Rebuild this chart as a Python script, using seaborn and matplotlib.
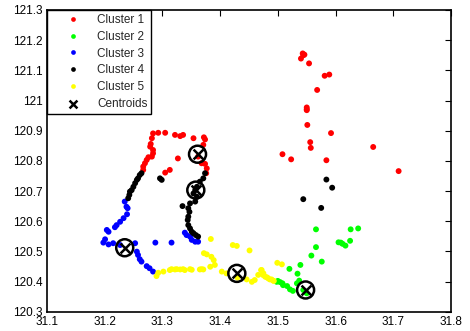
import numpy as np
import pandas as pd
import matplotlib
matplotlib.use("Agg")
import matplotlib.pyplot as plt
import seaborn as sns
from matplotlib.ticker import FormatStrFormatter

# cluster points (longitude-ish x, latitude-ish y)
c1_x = [31.543, 31.546, 31.540, 31.544, 31.554, 31.581, 31.589, 31.568, 31.550, 31.550,
        31.550, 31.551, 31.592, 31.556, 31.557, 31.665, 31.508, 31.523, 31.584, 31.709,
        31.284, 31.293, 31.305, 31.322, 31.331, 31.336, 31.354, 31.372, 31.374, 31.371,
        31.282, 31.280, 31.279, 31.284, 31.284, 31.282, 31.276, 31.273, 31.270, 31.267,
        31.267, 31.327, 31.313, 31.305, 31.368, 31.374, 31.377, 31.376, 31.362]
c1_y = [121.156, 121.152, 121.139, 121.150, 121.123, 121.082, 121.086, 121.035, 120.977, 120.971,
        120.968, 120.919, 120.892, 120.862, 120.843, 120.846, 120.822, 120.805, 120.802, 120.766,
        120.891, 120.893, 120.893, 120.886, 120.882, 120.886, 120.875, 120.878, 120.871, 120.853,
        120.875, 120.856, 120.847, 120.836, 120.825, 120.814, 120.812, 120.803, 120.792, 120.781,
        120.770, 120.808, 120.770, 120.761, 120.792, 120.790, 120.775, 120.759, 120.814]

c2_x = [31.566, 31.626, 31.639, 31.605, 31.609, 31.612, 31.617, 31.625, 31.566, 31.558,
        31.576, 31.539, 31.520, 31.534, 31.537, 31.500, 31.504, 31.508, 31.509, 31.516,
        31.521, 31.526, 31.533, 31.544, 31.550, 31.498]
c2_y = [120.573, 120.573, 120.576, 120.530, 120.529, 120.525, 120.519, 120.535, 120.514, 120.486,
        120.466, 120.455, 120.442, 120.426, 120.403, 120.402, 120.398, 120.394, 120.388, 120.385,
        120.374, 120.369, 120.394, 120.372, 120.361, 120.399]

c3_x = [31.235, 31.238, 31.240, 31.239, 31.233, 31.227, 31.221, 31.218, 31.207, 31.204,
        31.201, 31.198, 31.207, 31.215, 31.227, 31.253, 31.256, 31.258, 31.261, 31.264,
        31.273, 31.278, 31.284, 31.288, 31.316, 31.339, 31.342, 31.348, 31.351, 31.357,
        31.362]
c3_y = [120.665, 120.648, 120.643, 120.623, 120.610, 120.598, 120.587, 120.580, 120.565, 120.571,
        120.540, 120.529, 120.523, 120.527, 120.521, 120.527, 120.499, 120.488, 120.474, 120.466,
        120.451, 120.444, 120.433, 120.529, 120.529, 120.562, 120.554, 120.549, 120.538, 120.532,
        120.532]

c4_x = [31.264, 31.261, 31.258, 31.256, 31.253, 31.250, 31.247, 31.244, 31.243, 31.241,
        31.296, 31.299, 31.374, 31.371, 31.365, 31.360, 31.357, 31.354, 31.360, 31.357,
        31.335, 31.345, 31.347, 31.345, 31.344, 31.345, 31.348, 31.351, 31.354, 31.358,
        31.362, 31.348, 31.584, 31.594, 31.544, 31.575]
c4_y = [120.759, 120.753, 120.742, 120.737, 120.726, 120.714, 120.703, 120.698, 120.687, 120.676,
        120.742, 120.737, 120.759, 120.742, 120.731, 120.714, 120.703, 120.692, 120.681, 120.665,
        120.650, 120.643, 120.631, 120.615, 120.604, 120.587, 120.576, 120.565, 120.560, 120.554,
        120.549, 120.659, 120.738, 120.711, 120.673, 120.644]

c5_x = [31.384, 31.422, 31.429, 31.451, 31.372, 31.377, 31.385, 31.389, 31.391, 31.383,
        31.371, 31.365, 31.403, 31.411, 31.446, 31.455, 31.460, 31.466, 31.471, 31.475,
        31.481, 31.486, 31.492, 31.499, 31.507, 31.351, 31.339, 31.331, 31.322, 31.313,
        31.302, 31.293, 31.290, 31.316, 31.325, 31.336, 31.348, 31.368, 31.472, 31.474,
        31.478, 31.483, 31.489, 31.493, 31.430]
c5_y = [120.541, 120.521, 120.518, 120.503, 120.494, 120.490, 120.482, 120.471, 120.455, 120.449,
        120.440, 120.440, 120.433, 120.427, 120.407, 120.399, 120.405, 120.422, 120.438, 120.427,
        120.414, 120.407, 120.403, 120.462, 120.457, 120.439, 120.438, 120.440, 120.440, 120.438,
        120.433, 120.429, 120.418, 120.441, 120.441, 120.441, 120.441, 120.441, 120.438, 120.422,
        120.416, 120.411, 120.407, 120.402, 120.413]

cent_x = [31.361, 31.548, 31.235, 31.358, 31.429]
cent_y = [120.822, 120.372, 120.512, 120.703, 120.427]

cluster_names = ["Cluster 1", "Cluster 2", "Cluster 3", "Cluster 4", "Cluster 5"]
cluster_colors = ["#ff0000", "#00ff00", "#0000ff", "#000000", "#ffff00"]

frames = []
for name, xs, ys in zip(cluster_names, [c1_x, c2_x, c3_x, c4_x, c5_x],
                        [c1_y, c2_y, c3_y, c4_y, c5_y]):
    frames.append(pd.DataFrame({"x": xs, "y": ys, "cluster": name}))
df = pd.concat(frames, ignore_index=True)
cent = pd.DataFrame({"x": cent_x, "y": cent_y})

sns.set_style("white")
plt.rcParams["font.family"] = ["Liberation Sans", "DejaVu Sans"]

fig = plt.figure(figsize=(4.7, 3.31), dpi=100)
ax = fig.add_axes([0.0994, 0.0583, 0.8606, 0.9115])

sns.scatterplot(data=df, x="x", y="y", hue="cluster", hue_order=cluster_names,
                palette=cluster_colors, s=18, linewidth=0, ax=ax)
# centroid: ring plus cross
sns.scatterplot(data=cent, x="x", y="y", marker="o", s=150, facecolor="none",
                edgecolor="black", linewidth=1.8, ax=ax, legend=False)
sns.scatterplot(data=cent, x="x", y="y", marker="x", s=50, color="black",
                linewidth=1.8, ax=ax, label="Centroids")

ax.set_xlim(31.1, 31.8)
ax.set_ylim(120.3, 121.3)
ax.set_xticks(np.arange(31.1, 31.81, 0.1))
ax.set_yticks(np.arange(120.3, 121.31, 0.1))
ax.xaxis.set_major_formatter(FormatStrFormatter("%g"))
ax.yaxis.set_major_formatter(FormatStrFormatter("%g"))
ax.set_xlabel("")
ax.set_ylabel("")
ax.tick_params(direction="in", length=4, width=0.8, labelsize=8.5, colors="black",
               top=True, right=True, pad=3)
for sp in ax.spines.values():
    sp.set_visible(True)
    sp.set_color("black")
    sp.set_linewidth(1.2)

handles, labels = ax.get_legend_handles_labels()
leg = ax.legend(handles, labels, loc="upper left", fontsize=8.5, frameon=True,
                fancybox=False, edgecolor="black", framealpha=1,
                borderaxespad=0, handlelength=3.8, handletextpad=0.1,
                labelspacing=0.4, borderpad=0.35, markerscale=0.8)
leg.get_frame().set_linewidth(1.0)

fig.savefig("out.png", dpi=100)
